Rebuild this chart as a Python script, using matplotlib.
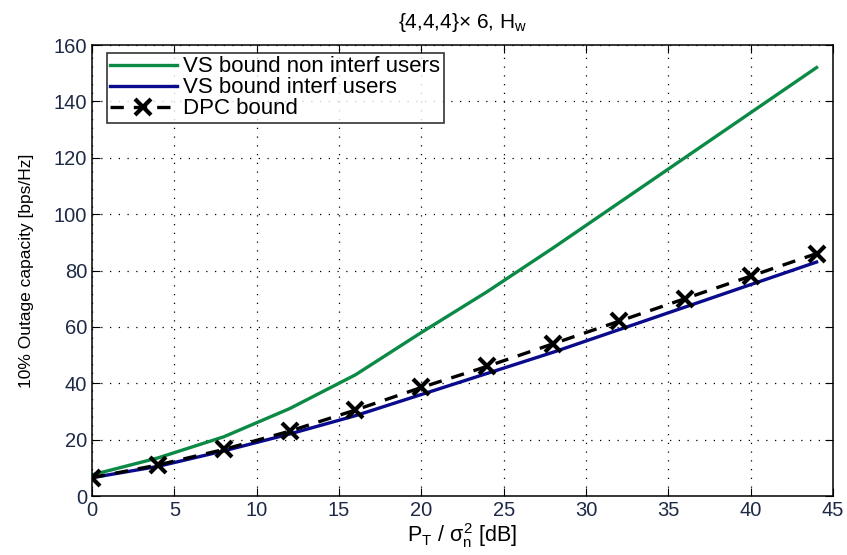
import matplotlib
matplotlib.use('Agg')
import matplotlib.pyplot as plt
import numpy as np

plt.rcParams['font.family'] = ['Liberation Sans', 'DejaVu Sans']
plt.rcParams['mathtext.fontset'] = 'custom'
plt.rcParams['mathtext.rm'] = 'Liberation Sans'
plt.rcParams['mathtext.it'] = 'Liberation Sans'

snr_db = [0, 4, 8, 12, 16, 20, 24, 28, 32, 36, 40, 44]
vs_non_interf = [7.5, 13.5, 21, 31, 43, 58, 72.5, 88, 104, 120, 136, 152]
vs_interf = [6.5, 10.5, 16, 22, 28.5, 36, 43.5, 51, 59, 67, 75, 83]
dpc = [6.5, 11, 16.5, 23, 30.5, 38.5, 46, 54, 62, 70, 78, 86]

fig = plt.figure(figsize=(8.47, 5.55), dpi=100)
ax = fig.add_axes([0.1086, 0.1063, 0.8749, 0.8126])

ax.plot(snr_db, vs_non_interf, color='#0b8a45', lw=2.4, label='VS bound non interf users')
ax.plot(snr_db, vs_interf, color='#0a0a8c', lw=2.4, label='VS bound interf users')
ax.plot(snr_db, dpc, color='black', lw=2.4, ls='--', dashes=(4, 3), marker='x',
        markersize=11, markeredgewidth=3, label='DPC bound')

ax.set_xlim(0, 45)
ax.set_ylim(0, 160)
ax.set_xticks(np.arange(0, 46, 5))
ax.set_yticks(np.arange(0, 161, 20))
ax.grid(True, ls=(0, (1, 6)), color='black', lw=0.9)
ax.tick_params(direction='in', top=True, right=True, labelsize=14.5, length=6,
               labelcolor='#1e2a45')
for s in ax.spines.values():
    s.set_linewidth(1.1)

ax.set_xlabel(r'P$_T$ / $\sigma_n^2$ [dB]', fontsize=15.5, labelpad=1)
ax.set_ylabel('10% Outage capacity [bps/Hz]', fontsize=12.5)
ax.yaxis.set_label_coords(-0.078, 0.5)
ax.set_title(r'{4,4,4}$\times$ 6, H$_w$', fontsize=15, pad=12)

leg = ax.legend(loc='upper left', bbox_to_anchor=(0.02, 0.982), fontsize=16,
                frameon=True, fancybox=False, edgecolor='black', borderaxespad=0,
                handlelength=3.0, handletextpad=0.3, labelspacing=0.0, borderpad=0.15)
leg.get_frame().set_linewidth(1.2)

fig.savefig('out.png', dpi=100)
